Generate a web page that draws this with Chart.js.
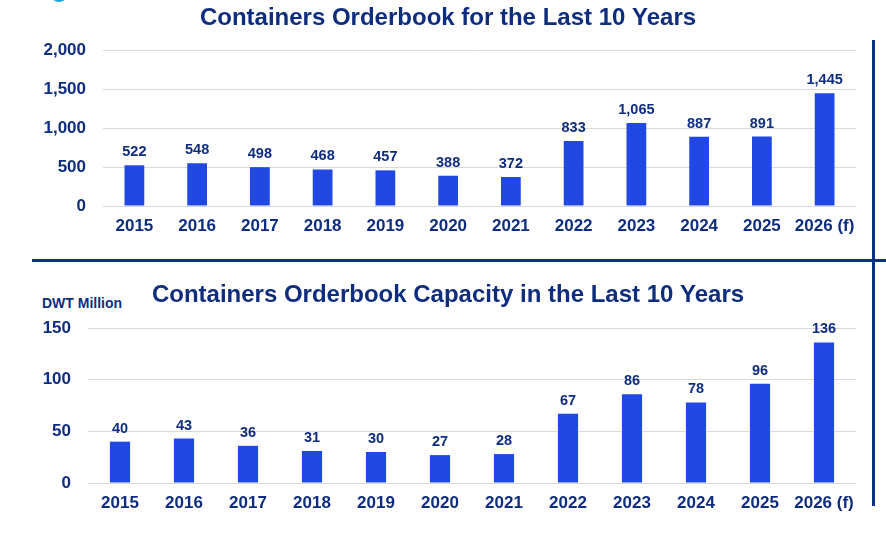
<!DOCTYPE html>
<html>
<head>
<meta charset="utf-8">
<script src="https://cdn.jsdelivr.net/npm/chart.js@4/dist/chart.umd.min.js"></script>
<style>
  html, body { margin: 0; padding: 0; background: #ffffff; }
  #wrap { position: relative; width: 886px; height: 535px; overflow: hidden; font-family: "Liberation Sans", Arial, sans-serif; }
  #c1 { position: absolute; left: 0; top: 0; }
  #c2 { position: absolute; left: 0; top: 262px; }
  .hline { position: absolute; left: 32px; top: 259px; width: 854px; height: 3px; background: #0b3186; }
  .vline { position: absolute; left: 872px; top: 40px; width: 2.5px; height: 466px; background: #0b3186; }
  .dot { position: absolute; left: 50px; top: -16px; width: 18px; height: 18px; border-radius: 50%; background: #1ba6e4; }
  .unit { position: absolute; left: 42px; top: 295px; font: bold 14px "Liberation Sans", Arial, sans-serif; color: #0f2d7f; white-space: nowrap; }
</style>
</head>
<body>
<div id="wrap">
  <div class="dot"></div>
  <canvas id="c1" width="886" height="258"></canvas>
  <div class="hline"></div>
  <div class="vline"></div>
  <div class="unit">DWT Million</div>
  <canvas id="c2" width="886" height="273"></canvas>
</div>
<script>
const categories = ["2015","2016","2017","2018","2019","2020","2021","2022","2023","2024","2025","2026 (f)"];
const orderbookCount = [522, 548, 498, 468, 457, 388, 372, 833, 1065, 887, 891, 1445];
const orderbookCapacity = [40, 43, 36, 31, 30, 27, 28, 67, 86, 78, 96, 136];
const title1 = "Containers Orderbook for the Last 10 Years";
const title2 = "Containers Orderbook Capacity in the Last 10 Years";

const NAVY = "#0f2d7f";
const BAR = "#2148e2";
const GRID = "#dadada";
const FONT = "'Liberation Sans', Arial, sans-serif";

const valueLabels = {
  id: "valueLabels",
  afterDatasetsDraw(chart) {
    const ctx = chart.ctx;
    const meta = chart.getDatasetMeta(0);
    const data = chart.data.datasets[0].data;
    ctx.save();
    ctx.font = "bold 14.5px " + FONT;
    ctx.fillStyle = NAVY;
    ctx.textAlign = "center";
    ctx.textBaseline = "alphabetic";
    meta.data.forEach((bar, i) => {
      ctx.fillText(data[i].toLocaleString("en-US"), bar.x, bar.y - 9);
    });
    ctx.restore();
  }
};

function makeChart(id, values, max, step, title, yWidth, titlePad, xHeight) {
  return new Chart(document.getElementById(id), {
    type: "bar",
    data: {
      labels: categories,
      datasets: [{
        data: values,
        backgroundColor: BAR,
        borderWidth: 0,
        barPercentage: 0.315,
        categoryPercentage: 1.0
      }]
    },
    options: {
      responsive: false,
      animation: false,
      layout: { padding: { left: 40, right: 30, top: 0, bottom: 0 } },
      plugins: {
        legend: { display: false },
        tooltip: { enabled: false },
        title: {
          display: true,
          text: title,
          color: NAVY,
          font: { family: FONT, size: 24, weight: "bold", lineHeight: 1.2 },
          padding: titlePad
        }
      },
      scales: {
        x: {
          grid: { display: false, drawTicks: false },
          border: { display: false },
          ticks: { color: NAVY, font: { family: FONT, size: 17, weight: "bold" }, padding: 10, maxRotation: 0, autoSkip: false },
          afterFit(scale) { scale.height = xHeight; }
        },
        y: {
          min: 0,
          max: max,
          ticks: { stepSize: step, color: NAVY, font: { family: FONT, size: 17, weight: "bold" }, padding: 17 },
          grid: { color: GRID, lineWidth: 1, drawTicks: false },
          border: { display: false },
          afterFit(scale) { scale.width = yWidth; }
        }
      }
    },
    plugins: [valueLabels]
  });
}

makeChart("c1", orderbookCount, 2000, 500, title1, 63, { top: 3.6, bottom: 17.6 }, 52);
makeChart("c2", orderbookCapacity, 150, 50, title2, 48, { top: 18.6, bottom: 18.6 }, 52);
</script>
</body>
</html>
